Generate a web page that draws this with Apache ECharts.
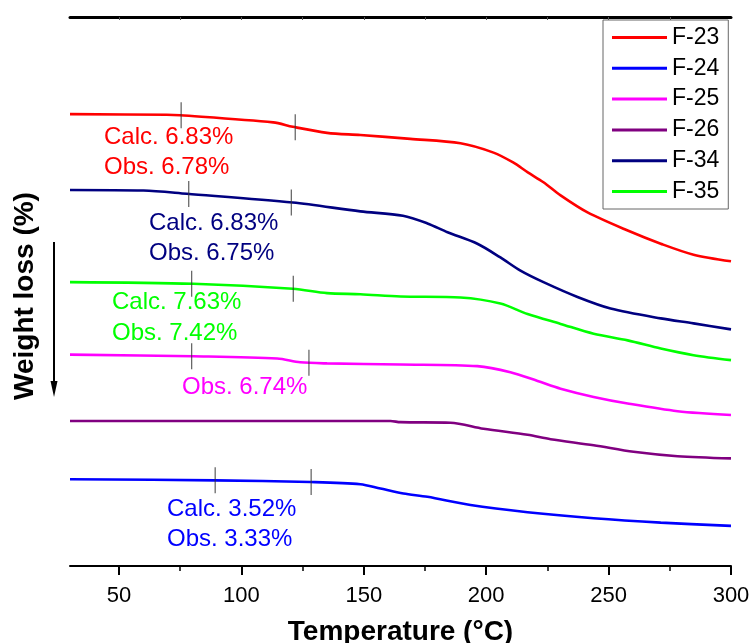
<!DOCTYPE html>
<html>
<head>
<meta charset="utf-8">
<script src="https://cdn.jsdelivr.net/npm/echarts@6/dist/echarts.min.js"></script>
<style>html,body{margin:0;padding:0;background:#fff}#c{width:753px;height:643px}</style>
</head>
<body>
<div id="c"></div>
<script>
// Temperature (°C) vs relative weight (arbitrary offset units, curves stacked)
const seriesNames = ['F-23', 'F-24', 'F-25', 'F-26', 'F-34', 'F-35'];
const F23 = [[30,82.3],[69.5,82.2],[75,82.1],[113,80.8],[121,80.0],[135,78.9],[148.6,78.5],[169,77.8],[189.5,77.0],[203,75.3],[211,73.5],[217,71.7],[223.4,69.9],[230.4,67.5],[241.4,64.4],[257.8,61.1],[271.3,58.7],[284.7,56.7],[300,55.5]];
const F24 = [[30,15.8],[89.3,15.6],[128.1,15.3],[148.6,14.9],[156.8,14.1],[166.2,13.2],[176,12.6],[193.6,11.1],[216.9,9.8],[243.9,8.7],[271.3,7.9],[300,7.3]];
const F25 = [[30,38.5],[80.3,38.2],[114.6,37.8],[124,37.1],[135,36.9],[165,36.7],[196.4,36.4],[209.9,35.3],[221,33.7],[230.4,32.3],[243.9,30.8],[257.8,29.6],[278.2,28.2],[300,27.5]];
const F26 = [[30,26.4],[160.9,26.4],[165,26.2],[185.4,26.1],[198.9,25.0],[216.9,23.9],[226.3,23.1],[243.9,22.0],[260.2,20.8],[278.2,20.0],[300,19.6]];
const F34 = [[30,68.5],[60,68.4],[77.7,67.8],[121,66.2],[148.6,64.6],[166,63.8],[176,62.4],[184.2,60.8],[196.4,58.7],[205.8,56.2],[214,53.8],[223.4,51.7],[237.3,49.0],[250.8,46.9],[271.3,45.1],[284.7,44.2],[300,43.1]];
const F35 = [[30,51.7],[80.3,51.4],[121,50.5],[135,49.7],[148.6,49.5],[165,49.1],[189.5,48.9],[205.8,47.8],[216.9,45.9],[230.4,44.1],[243.9,42.3],[257.8,41.1],[271.3,39.6],[284.7,38.4],[300,37.5]];
const seriesColors = ['#FF0000', '#0000FF', '#FF00FF', '#800080', '#000080', '#00FF00'];
// temperatures of step-marker ticks per curve
const stepMarks = [['F-23', 75.4], ['F-23', 122], ['F-34', 78.5], ['F-34', 120.4], ['F-35', 79.7], ['F-35', 121.2], ['F-25', 79.7], ['F-25', 127.6], ['F-24', 89.3], ['F-24', 128.5]];
const majorTicks = [50, 100, 150, 200, 250, 300];
const minorTicks = [75, 125, 175, 225, 275];
const allTicks = [50, 75, 100, 125, 150, 175, 200, 225, 250, 275];
const annotations = [
  ['Calc. 6.83%', 'F-23'], ['Obs. 6.78%', 'F-23'],
  ['Calc. 6.83%', 'F-34'], ['Obs. 6.75%', 'F-34'],
  ['Calc. 7.63%', 'F-35'], ['Obs. 7.42%', 'F-35'],
  ['Obs. 6.74%', 'F-25'],
  ['Calc. 3.52%', 'F-24'], ['Obs. 3.33%', 'F-24']
];
const annPos = [[104,137],[104,167],[149,223],[149,253],[112,302],[112,333],[182,387],[167,509],[167,539]];

const dataMap = {'F-23': F23, 'F-24': F24, 'F-25': F25, 'F-26': F26, 'F-34': F34, 'F-35': F35};
function valueAt(arr, t) {
  for (let i = 0; i < arr.length - 1; i++) {
    if (t >= arr[i][0] && t <= arr[i+1][0]) {
      const f = (t - arr[i][0]) / (arr[i+1][0] - arr[i][0]);
      return arr[i][1] + f * (arr[i+1][1] - arr[i][1]);
    }
  }
  return arr[arr.length-1][1];
}
const FONT = "'Liberation Sans', Arial, sans-serif";
const colorOf = n => seriesColors[seriesNames.indexOf(n)];

const chart = echarts.init(document.getElementById('c'), null, {renderer: 'canvas'});
const lineSeries = seriesNames.map((n, i) => ({
  name: n, type: 'line', data: dataMap[n], showSymbol: false, smooth: 0.3,
  lineStyle: {color: seriesColors[i], width: 2.6}, itemStyle: {color: seriesColors[i]},
  animation: false
}));
const markSeries = {
  type: 'scatter', name: 'marks', symbol: 'rect', symbolSize: [1.2, 26],
  itemStyle: {color: '#333'}, silent: true, animation: false, z: 5,
  data: stepMarks.map(([n, t]) => [t, valueAt(dataMap[n], t)])
};
const graphics = annotations.map(([txt, n], i) => ({
  type: 'text', x: annPos[i][0], y: annPos[i][1],
  style: {text: txt, fill: colorOf(n), font: '24px ' + FONT, textVerticalAlign: 'middle', textAlign: 'left'}
}));
graphics.push(
  {type: 'text', x: 11, y: 400, rotation: Math.PI / 2,
   style: {text: 'Weight loss (%)', fill: '#000', font: 'bold 28px ' + FONT, textVerticalAlign: 'top'}},
  {type: 'line', shape: {x1: 54, y1: 242, x2: 54, y2: 385}, style: {stroke: '#000', lineWidth: 2}},
  {type: 'polygon', shape: {points: [[50.5, 381], [57.5, 381], [54, 397]]}, style: {fill: '#000'}}
);

chart.setOption({
  backgroundColor: '#fff',
  animation: false,
  grid: {left: 70, right: 22, top: 17, bottom: 77, outerBoundsMode: 'none', containLabel: false},
  legend: {
    data: seriesNames, orient: 'vertical', left: 603, top: 20,
    padding: [6, 9, 6, 9], itemGap: 7.8, itemWidth: 55, itemHeight: 3, itemTextGap: 8,
    icon: 'rect', borderColor: '#666', borderWidth: 1, borderRadius: 0,
    textStyle: {fontSize: 23, fontFamily: FONT, color: '#000', lineHeight: 23}
  },
  xAxis: [
    {type: 'value', min: 30, max: 300, position: 'bottom',
     name: 'Temperature (°C)', nameLocation: 'middle', nameGap: 52,
     nameTextStyle: {fontSize: 28, fontWeight: 'bold', fontFamily: FONT, color: '#000'},
     axisLine: {show: true, lineStyle: {color: '#000', width: 2}},
     axisTick: {show: true, inside: false, length: 9, lineStyle: {width: 2, color: '#000'}, customValues: majorTicks},
     axisLabel: {show: true, customValues: majorTicks, fontSize: 22, fontFamily: FONT, color: '#000', margin: 19},
     splitLine: {show: false}},
    {type: 'value', min: 30, max: 300, position: 'bottom',
     axisLine: {show: false},
     axisTick: {show: true, inside: false, length: 5, lineStyle: {width: 1.5, color: '#000'}, customValues: minorTicks},
     axisLabel: {show: false}, splitLine: {show: false}},
    {type: 'value', min: 30, max: 300, position: 'top',
     axisLine: {show: true, lineStyle: {color: '#000', width: 3}},
     axisTick: {show: true, inside: true, length: 3, lineStyle: {width: 1, color: '#555'}, customValues: allTicks},
     axisLabel: {show: false}, splitLine: {show: false}}
  ],
  yAxis: {type: 'value', min: 0, max: 100, show: false, splitLine: {show: false}},
  series: lineSeries.concat([markSeries]),
  graphic: graphics
});
</script>
</body>
</html>
